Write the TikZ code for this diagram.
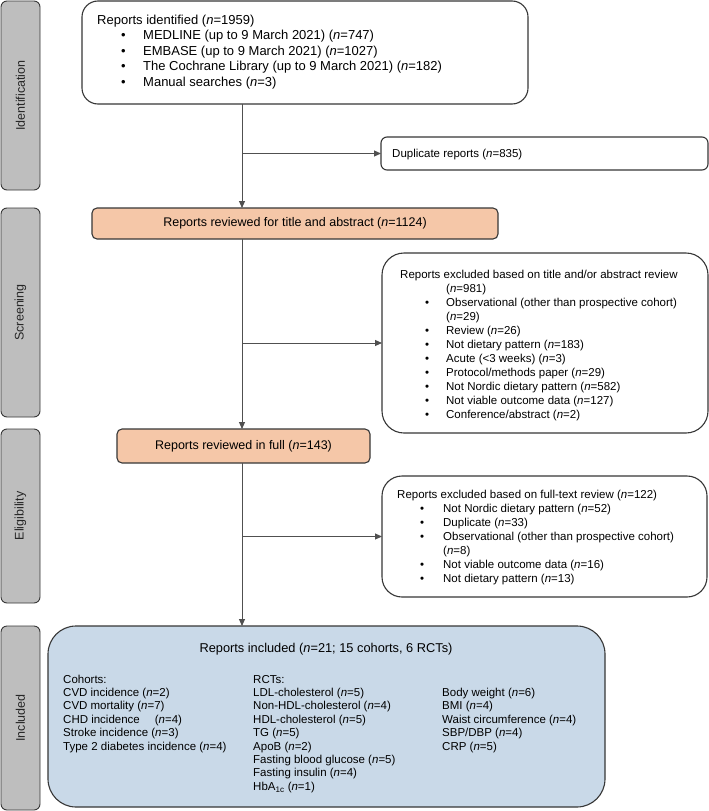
\documentclass[tikz,border=0pt]{standalone}
\usepackage{fontspec}
\setmainfont{Liberation Sans}
\usetikzlibrary{arrows.meta}
\definecolor{sidegray}{RGB}{190,190,190}
\definecolor{peach}{RGB}{245,199,168}
\definecolor{paleblue}{RGB}{201,217,232}
\definecolor{edgecol}{RGB}{55,55,55}
\definecolor{wirecol}{RGB}{80,80,80}
\newcommand{\nvar}{\textit{n}}
\newcommand{\bulat}[1]{\makebox[46pt][l]{\hspace*{#1}\textbullet}}
\newcommand{\indt}{\hspace*{46pt}}
\begin{document}
\begin{tikzpicture}[x=1pt,y=-1pt,
  sidebox/.style={draw=edgecol, fill=sidegray, rounded corners=6pt, line width=0.9pt,
    rotate=90, inner sep=0pt, minimum height=39pt, font=\fontsize{12.5}{15}\selectfont, text=black!85},
  plainbox/.style={draw=edgecol, line width=1.1pt, anchor=north west, inner sep=0pt, outer sep=0pt},
  stagebox/.style={plainbox, fill=peach, rounded corners=5pt, font=\fontsize{12.5}{15}\selectfont},
  listtext/.style={anchor=base west, inner sep=0pt, font=\fontsize{11.5}{14}\selectfont},
  inctext/.style={anchor=base west, inner sep=0pt, font=\fontsize{11.5}{13.4}\selectfont},
  wire/.style={draw=wirecol, line width=0.9pt, -{Triangle[length=7pt,width=6pt]}}
]
\useasboundingbox[fill=white] (0,0) rectangle (709,811);

% side labels
\node[sidebox, minimum width=189pt] (sid) at (20.5,95.5) {Identification};
\node[sidebox, minimum width=209pt] (sscr) at (20.5,312.5) {Screening};
\node[sidebox, minimum width=174pt] (sel) at (20.5,516) {Eligibility};
\node[sidebox, minimum width=184pt] (sinc) at (20.5,718) {Included};

% identification box
\node[plainbox, rounded corners=16pt, minimum width=446pt, minimum height=103pt] (idbox) at (82,1) {};
\node[anchor=base west, inner sep=0pt, font=\fontsize{13}{15.5}\selectfont] (idtext) at (97,24) {\begin{tabular}[t]{@{}l@{}}
Reports identified (\nvar=1959)\\
\bulat{24pt}MEDLINE (up to 9 March 2021) (\nvar=747)\\
\bulat{24pt}EMBASE (up to 9 March 2021) (\nvar=1027)\\
\bulat{24pt}The Cochrane Library (up to 9 March 2021) (\nvar=182)\\
\bulat{24pt}Manual searches (\nvar=3)
\end{tabular}};

% duplicates
\node[plainbox, rounded corners=6pt, minimum width=327pt, minimum height=33pt] (dup) at (381,137) {};
\node[listtext] (duptext) at (392,157) {Duplicate reports (\nvar=835)};

% stage boxes
\node[stagebox, minimum width=406pt, minimum height=31pt] (rev1) at (92,208) {Reports reviewed for title and abstract (\nvar=1124)};
\node[stagebox, minimum width=253pt, minimum height=34pt] (rev2) at (117,429) {Reports reviewed in full (\nvar=143)};

% exclusion 1
\node[plainbox, rounded corners=22pt, minimum width=326pt, minimum height=180pt] (ex1) at (382,253) {};
\node[listtext] (ex1text) at (400,278) {\begin{tabular}[t]{@{}l@{}}
Reports excluded based on title and/or abstract review\\
\indt(\nvar=981)\\
\bulat{25pt}Observational (other than prospective cohort)\\
\indt(\nvar=29)\\
\bulat{25pt}Review (\nvar=26)\\
\bulat{25pt}Not dietary pattern (\nvar=183)\\
\bulat{25pt}Acute (<3 weeks) (\nvar=3)\\
\bulat{25pt}Protocol/methods paper (\nvar=29)\\
\bulat{25pt}Not Nordic dietary pattern (\nvar=582)\\
\bulat{25pt}Not viable outcome data (\nvar=127)\\
\bulat{25pt}Conference/abstract (\nvar=2)
\end{tabular}};

% exclusion 2
\node[plainbox, rounded corners=20pt, minimum width=325pt, minimum height=121pt] (ex2) at (382,476) {};
\node[listtext] (ex2text) at (397,498) {\begin{tabular}[t]{@{}l@{}}
Reports excluded based on full-text review (\nvar=122)\\
\bulat{23pt}Not Nordic dietary pattern (\nvar=52)\\
\bulat{23pt}Duplicate (\nvar=33)\\
\bulat{23pt}Observational (other than prospective cohort)\\
\indt(\nvar=8)\\
\bulat{23pt}Not viable outcome data (\nvar=16)\\
\bulat{23pt}Not dietary pattern (\nvar=13)
\end{tabular}};

% included
\node[plainbox, fill=paleblue, rounded corners=28pt, minimum width=557pt, minimum height=181pt] (inc) at (48,626) {};
\node[anchor=base, inner sep=0pt, font=\fontsize{12.8}{15}\selectfont] (inctitle) at (326,652) {Reports included (\nvar=21; 15 cohorts, 6 RCTs)};
\node[inctext] (inccol1) at (63,683) {\begin{tabular}[t]{@{}l@{}}
Cohorts:\\
CVD incidence (\nvar=2)\\
CVD mortality (\nvar=7)\\
CHD incidence\hspace{15pt}(\nvar=4)\\
Stroke incidence (\nvar=3)\\
Type 2 diabetes incidence (\nvar=4)
\end{tabular}};
\node[inctext] (inccol2) at (253,683) {\begin{tabular}[t]{@{}l@{}}
RCTs:\\
LDL-cholesterol (\nvar=5)\\
Non-HDL-cholesterol (\nvar=4)\\
HDL-cholesterol (\nvar=5)\\
TG (\nvar=5)\\
ApoB (\nvar=2)\\
Fasting blood glucose (\nvar=5)\\
Fasting insulin (\nvar=4)\\
HbA\textsubscript{1c} (\nvar=1)
\end{tabular}};
\node[inctext] (inccol3) at (442,696.4) {\begin{tabular}[t]{@{}l@{}}
Body weight (\nvar=6)\\
BMI (\nvar=4)\\
Waist circumference (\nvar=4)\\
SBP/DBP (\nvar=4)\\
CRP (\nvar=5)
\end{tabular}};

% connectors
\coordinate (spine) at (242,0);
\draw[wire] (idbox.south -| spine) -- (rev1.north -| spine);
\draw[wire] (spine |- dup.west) -- (dup.west);
\draw[wire] (rev1.south -| spine) -- (rev2.north -| spine);
\draw[wire] (spine |- ex1.west) -- (ex1.west);
\draw[wire] (rev2.south -| spine) -- (inc.north -| spine);
\draw[wire] (spine |- ex2.west) -- (ex2.west);
\end{tikzpicture}
\end{document}
